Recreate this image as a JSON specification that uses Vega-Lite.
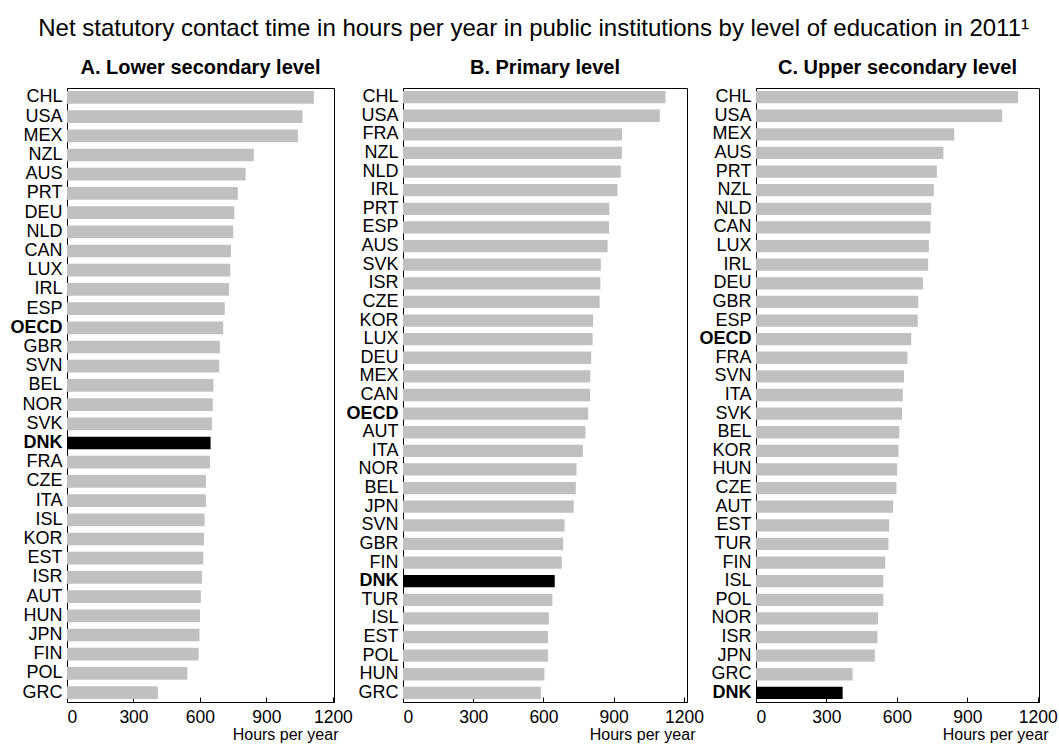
{
  "$schema": "https://vega.github.io/schema/vega-lite/v6.json",
  "background": "white",
  "padding": {"left": 9, "top": 17, "right": 8, "bottom": 0},
  "title": {"text": "Net statutory contact time in hours per year in public institutions by level of education in 2011¹", "fontSize": 24, "fontWeight": "normal", "anchor": "middle", "frame": "bounds", "offset": 16, "color": "black"},
  "config": {
    "font": "Liberation Sans",
    "view": {"stroke": "black", "strokeWidth": 1},
    "axis": {"grid": false, "domainColor": "black", "tickColor": "black", "labelColor": "black", "titleColor": "black"},
    "title": {"color": "black"}
  },
  "bounds": "flush",
  "spacing": 69,
  "datasets": {
    "lower": [
      {"country": "CHL", "hours": 1114}, {"country": "USA", "hours": 1063}, {"country": "MEX", "hours": 1042}, {"country": "NZL", "hours": 843},
      {"country": "AUS", "hours": 806}, {"country": "PRT", "hours": 771}, {"country": "DEU", "hours": 755}, {"country": "NLD", "hours": 750},
      {"country": "CAN", "hours": 740}, {"country": "LUX", "hours": 737}, {"country": "IRL", "hours": 731}, {"country": "ESP", "hours": 712},
      {"country": "OECD", "hours": 705}, {"country": "GBR", "hours": 690}, {"country": "SVN", "hours": 687}, {"country": "BEL", "hours": 661},
      {"country": "NOR", "hours": 658}, {"country": "SVK", "hours": 654}, {"country": "DNK", "hours": 648}, {"country": "FRA", "hours": 645},
      {"country": "CZE", "hours": 627}, {"country": "ITA", "hours": 627}, {"country": "ISL", "hours": 621}, {"country": "KOR", "hours": 618},
      {"country": "EST", "hours": 615}, {"country": "ISR", "hours": 609}, {"country": "AUT", "hours": 604}, {"country": "HUN", "hours": 600},
      {"country": "JPN", "hours": 598}, {"country": "FIN", "hours": 594}, {"country": "POL", "hours": 543}, {"country": "GRC", "hours": 410}
    ],
    "primary": [
      {"country": "CHL", "hours": 1121}, {"country": "USA", "hours": 1097}, {"country": "FRA", "hours": 936}, {"country": "NZL", "hours": 935},
      {"country": "NLD", "hours": 930}, {"country": "IRL", "hours": 916}, {"country": "PRT", "hours": 881}, {"country": "ESP", "hours": 880},
      {"country": "AUS", "hours": 874}, {"country": "SVK", "hours": 845}, {"country": "ISR", "hours": 843}, {"country": "CZE", "hours": 840},
      {"country": "KOR", "hours": 812}, {"country": "LUX", "hours": 810}, {"country": "DEU", "hours": 804}, {"country": "MEX", "hours": 800},
      {"country": "CAN", "hours": 799}, {"country": "OECD", "hours": 791}, {"country": "AUT", "hours": 779}, {"country": "ITA", "hours": 768},
      {"country": "NOR", "hours": 741}, {"country": "BEL", "hours": 738}, {"country": "JPN", "hours": 729}, {"country": "SVN", "hours": 690},
      {"country": "GBR", "hours": 684}, {"country": "FIN", "hours": 678}, {"country": "DNK", "hours": 648}, {"country": "TUR", "hours": 638},
      {"country": "ISL", "hours": 623}, {"country": "EST", "hours": 619}, {"country": "POL", "hours": 619}, {"country": "HUN", "hours": 604},
      {"country": "GRC", "hours": 589}
    ],
    "upper": [
      {"country": "CHL", "hours": 1116}, {"country": "USA", "hours": 1048}, {"country": "MEX", "hours": 844}, {"country": "AUS", "hours": 798},
      {"country": "PRT", "hours": 770}, {"country": "NZL", "hours": 757}, {"country": "NLD", "hours": 746}, {"country": "CAN", "hours": 743},
      {"country": "LUX", "hours": 736}, {"country": "IRL", "hours": 733}, {"country": "DEU", "hours": 711}, {"country": "GBR", "hours": 691},
      {"country": "ESP", "hours": 689}, {"country": "OECD", "hours": 661}, {"country": "FRA", "hours": 645}, {"country": "SVN", "hours": 630},
      {"country": "ITA", "hours": 625}, {"country": "SVK", "hours": 622}, {"country": "BEL", "hours": 610}, {"country": "KOR", "hours": 607},
      {"country": "HUN", "hours": 601}, {"country": "CZE", "hours": 598}, {"country": "AUT", "hours": 584}, {"country": "EST", "hours": 567},
      {"country": "TUR", "hours": 564}, {"country": "FIN", "hours": 550}, {"country": "ISL", "hours": 542}, {"country": "POL", "hours": 542},
      {"country": "NOR", "hours": 520}, {"country": "ISR", "hours": 517}, {"country": "JPN", "hours": 506}, {"country": "GRC", "hours": 411},
      {"country": "DNK", "hours": 369}
    ]
  },
  "hconcat": [
    {
      "width": 267, "height": 614,
      "title": {"text": "A. Lower secondary level", "fontSize": 20, "fontWeight": "bold", "anchor": "middle", "offset": 10},
      "data": {"name": "lower"},
      "mark": {"type": "bar"},
      "encoding": {
        "y": {"field": "country", "type": "nominal", "sort": null, "scale": {"paddingInner": 0.34, "paddingOuter": 0.16},
          "axis": {"title": null, "ticks": false, "labelPadding": 5, "labelFontSize": 18, "labelFontWeight": {"condition": {"test": "datum.value === 'OECD' || datum.value === 'DNK'", "value": "bold"}, "value": "normal"}}},
        "x": {"field": "hours", "type": "quantitative", "scale": {"domain": [0, 1205], "nice": false},
          "axis": {"values": [0, 300, 600, 900, 1200], "format": "d", "title": "Hours per year", "titleAnchor": "end", "titleAlign": "right", "titleX": 271, "titleFontWeight": "normal", "titleFontSize": 16, "labelFontSize": 17.5, "tickSize": -5, "labelPadding": 11, "titlePadding": 1}},
        "color": {"condition": {"test": "datum.country === 'DNK'", "value": "black"}, "value": "#c0c0c0"}
      }
    },
    {
      "width": 284, "height": 614,
      "title": {"text": "B. Primary level", "fontSize": 20, "fontWeight": "bold", "anchor": "middle", "offset": 10},
      "data": {"name": "primary"},
      "mark": {"type": "bar"},
      "encoding": {
        "y": {"field": "country", "type": "nominal", "sort": null, "scale": {"paddingInner": 0.34, "paddingOuter": 0.16},
          "axis": {"title": null, "ticks": false, "labelPadding": 5, "labelFontSize": 18, "labelFontWeight": {"condition": {"test": "datum.value === 'OECD' || datum.value === 'DNK'", "value": "bold"}, "value": "normal"}}},
        "x": {"field": "hours", "type": "quantitative", "scale": {"domain": [0, 1213], "nice": false},
          "axis": {"values": [0, 300, 600, 900, 1200], "format": "d", "title": "Hours per year", "titleAnchor": "end", "titleAlign": "right", "titleX": 292, "titleFontWeight": "normal", "titleFontSize": 16, "labelFontSize": 17.5, "tickSize": -5, "labelPadding": 11, "titlePadding": 1}},
        "color": {"condition": {"test": "datum.country === 'DNK'", "value": "black"}, "value": "#c0c0c0"}
      }
    },
    {
      "width": 283, "height": 614,
      "title": {"text": "C. Upper secondary level", "fontSize": 20, "fontWeight": "bold", "anchor": "middle", "offset": 10},
      "data": {"name": "upper"},
      "mark": {"type": "bar"},
      "encoding": {
        "y": {"field": "country", "type": "nominal", "sort": null, "scale": {"paddingInner": 0.34, "paddingOuter": 0.16},
          "axis": {"title": null, "ticks": false, "labelPadding": 5, "labelFontSize": 18, "labelFontWeight": {"condition": {"test": "datum.value === 'OECD' || datum.value === 'DNK'", "value": "bold"}, "value": "normal"}}},
        "x": {"field": "hours", "type": "quantitative", "scale": {"domain": [0, 1205], "nice": false},
          "axis": {"values": [0, 300, 600, 900, 1200], "format": "d", "title": "Hours per year", "titleAnchor": "end", "titleAlign": "right", "titleX": 292, "titleFontWeight": "normal", "titleFontSize": 16, "labelFontSize": 17.5, "tickSize": -5, "labelPadding": 11, "titlePadding": 1}},
        "color": {"condition": {"test": "datum.country === 'DNK'", "value": "black"}, "value": "#c0c0c0"}
      }
    }
  ]
}
